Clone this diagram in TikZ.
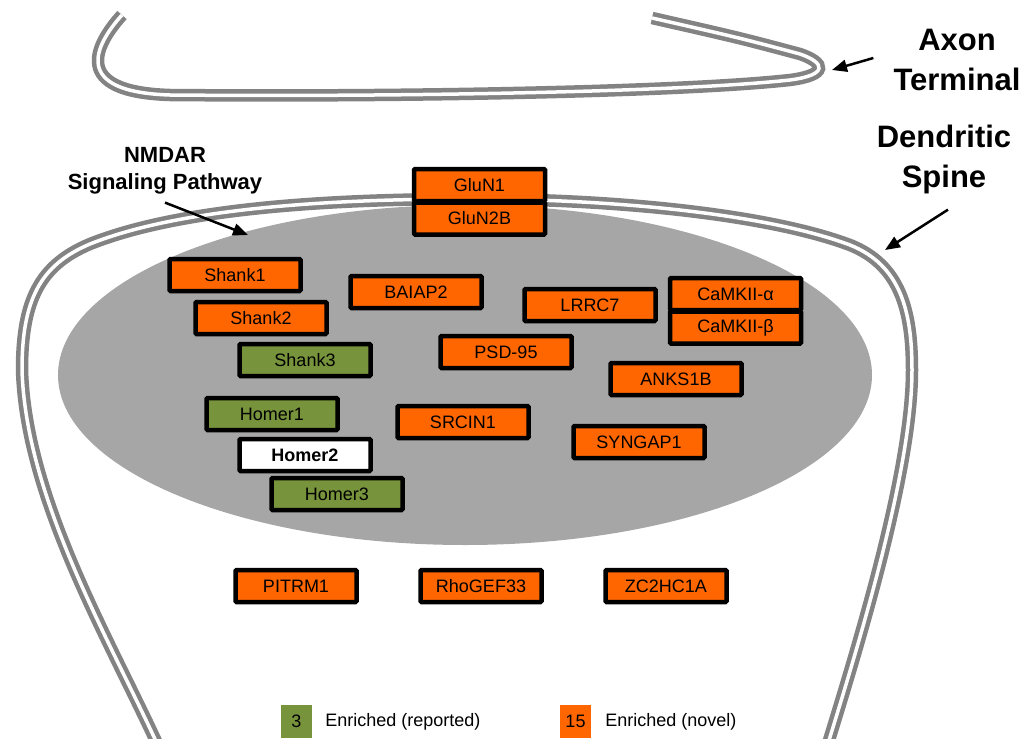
\documentclass[tikz,border=0pt]{standalone}
\usepackage{fontspec}
\setmainfont{Liberation Sans}
\usepackage{tikz}
\usetikzlibrary{positioning,arrows.meta}
\definecolor{novelorange}{HTML}{FF6600}
\definecolor{reportedgreen}{HTML}{77933C}
\definecolor{psdgray}{HTML}{A6A6A6}
\definecolor{membranegray}{HTML}{838383}

\begin{document}
\begin{tikzpicture}[x=1pt,y=-1pt]
	\tikzset{membrane/.style={draw=membranegray,line width=4.5pt,double=white,double distance=3.5pt}}
	\tikzset{protein/.style={draw=black,line width=4.5pt,rounded corners=1pt,minimum width=131pt,minimum height=32pt,inner sep=0pt,font=\fontsize{18}{20}\selectfont}}
	\tikzset{novelbox/.style={protein,fill=novelorange}}
	\tikzset{reportedbox/.style={protein,fill=reportedgreen}}
	\tikzset{heading/.style={align=center,inner sep=0pt,font=\bfseries\fontsize{31}{40}\selectfont}}
	\tikzset{keybox/.style={minimum width=31pt,minimum height=33pt,inner sep=0pt,font=\fontsize{18}{20}\selectfont}}
	\tikzset{pointer/.style={line width=2.5pt,-{Triangle[length=15pt,width=12pt]}}}
	\useasboundingbox (0,0) rectangle (1034,739);
	% postsynaptic density and membranes
	\fill[psdgray] (465,375) ellipse [x radius=407,y radius=170];
	\draw[membrane] (122,15) .. controls (95,45) and (70,92) .. (170,95) .. controls (400,97) and (680,92) .. (790,80) .. controls (828,75) and (826,63) .. (800,54) .. controls (740,38) .. (652,18);
	\draw[membrane] (160,750) .. controls (110,640) and (26,500) .. (22,370) .. controls (22,300) and (40,265) .. (90,244) .. controls (180,208) and (330,199) .. (470,199) .. controls (620,199) and (770,215) .. (850,245) .. controls (900,265) and (912,310) .. (912,370) .. controls (912,470) and (860,640) .. (826,750);
	\node[novelbox] (glun1) at (479.5,185) {GluN1};
	\node[novelbox,below=-3pt of glun1] (glun2b) {GluN2B};
	\node[novelbox] (shank1) at (235,275) {Shank1};
	\node[novelbox] (baiap2) at (416,292) {BAIAP2};
	\node[novelbox] (shank2) at (261,318) {Shank2};
	\node[reportedbox] (shank3) at (305,360) {Shank3};
	\node[novelbox] (psd95) at (506,352) {PSD-95};
	\node[novelbox] (lrrc7) at (590,305) {LRRC7};
	\node[novelbox] (camk2a) at (735.5,294) {CaMKII-α};
	\node[novelbox,below=-3pt of camk2a] (camk2b) {CaMKII-β};
	\node[novelbox] (anks1b) at (676,379) {ANKS1B};
	\node[reportedbox] (homer1) at (272,414) {Homer1};
	\node[novelbox] (srcin1) at (463,422) {SRCIN1};
	\node[novelbox] (syngap1) at (639,442) {SYNGAP1};
	\node[protein,fill=white,font=\bfseries\fontsize{18}{20}\selectfont] (homer2) at (305,455) {Homer2};
	\node[reportedbox] (homer3) at (337,494) {Homer3};
	\node[novelbox,minimum width=121pt] (pitrm1) at (296,586) {PITRM1};
	\node[novelbox,minimum width=121pt] (rhogef33) at (481,586) {RhoGEF33};
	\node[novelbox,minimum width=121pt] (zc2hc1a) at (666,586) {ZC2HC1A};
	% labels
	\node[heading] (axonlbl) at (957,60) {Axon\\Terminal};
	\node[heading] (spinelbl) at (944,159) {Dendritic\\Spine};
	\node[heading,font=\bfseries\fontsize{22}{27}\selectfont] (nmdarlbl) at (165,171) {NMDAR\\Signaling Pathway};
	\coordinate (axontip) at (832,70);
	\coordinate (spinetip) at (885,250);
	\coordinate (nmdartip) at (248,235);
	\draw[pointer] ([xshift=-20pt,yshift=2pt]axonlbl.west) -- (axontip);
	\draw[pointer] ([xshift=4pt,yshift=-16pt]spinelbl.south) -- (spinetip);
	\draw[pointer] ([yshift=-8pt]nmdarlbl.south) -- (nmdartip);
	% legend
	\node[keybox,fill=reportedgreen] (reportedkey) at (296.5,721.5) {3};
	\node[right=13pt of reportedkey,inner sep=0pt,font=\fontsize{18}{20}\selectfont] (reportedtxt) {Enriched (reported)};
	\node[keybox,fill=novelorange] (novelkey) at (575.5,721.5) {15};
	\node[right=14pt of novelkey,inner sep=0pt,font=\fontsize{18}{20}\selectfont] (noveltxt) {Enriched (novel)};
\end{tikzpicture}
\end{document}
